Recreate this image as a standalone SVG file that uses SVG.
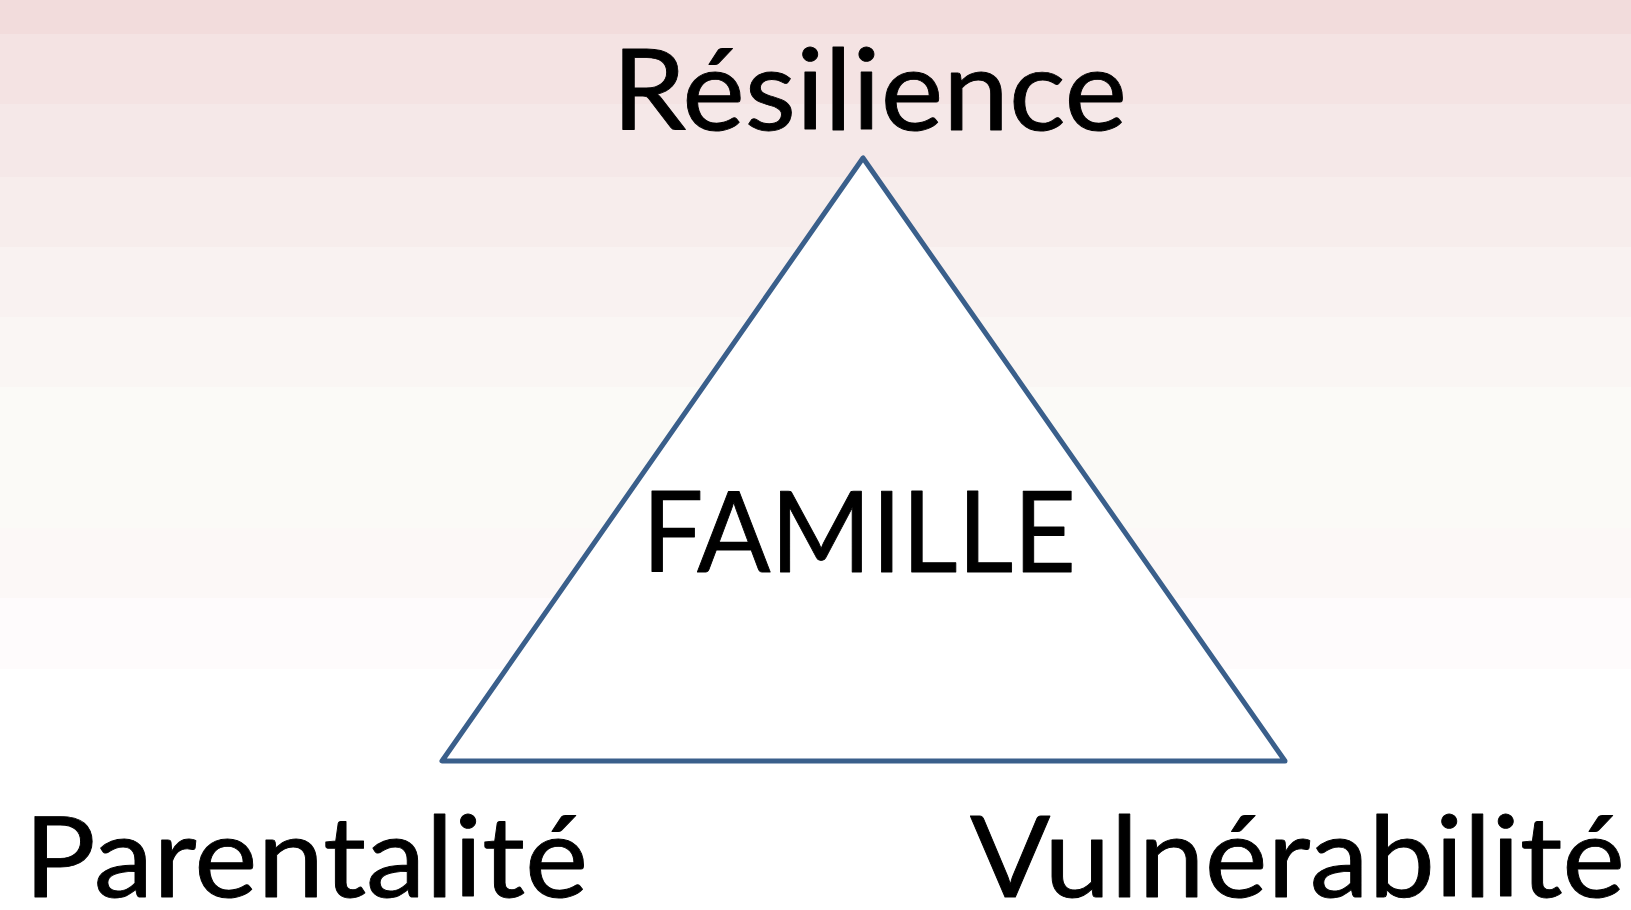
<svg xmlns="http://www.w3.org/2000/svg" width="1631" height="910" viewBox="0 0 1631 910">
<style>
.lbl{font-family:Lato,"Open Sans","Liberation Sans",sans-serif;font-size:112px;fill:#000;stroke:#000;stroke-width:0.9px;stroke-linejoin:round;}
.tri{fill:#fff;stroke:#3A5F8B;stroke-width:5;stroke-linejoin:round;}
</style>
<g id="background">
<rect x="0" y="0" width="1631" height="910" fill="#fff"/>
<rect x="0" y="0" width="1631" height="34" fill="#F2DCDC"/>
<rect x="0" y="34" width="1631" height="70" fill="#F4E3E3"/>
<rect x="0" y="104" width="1631" height="73" fill="#F5E8E8"/>
<rect x="0" y="177" width="1631" height="70" fill="#F7EDEC"/>
<rect x="0" y="247" width="1631" height="70" fill="#F9F2F1"/>
<rect x="0" y="317" width="1631" height="70" fill="#FAF6F4"/>
<rect x="0" y="387" width="1631" height="141" fill="#FBFAF7"/>
<rect x="0" y="528" width="1631" height="70" fill="#FCF8F7"/>
<rect x="0" y="598" width="1631" height="71" fill="#FEFBFC"/>
</g>
<g id="connectors"></g>
<g id="famille">
<polygon class="tri" points="863,158 442,761 1285,761"/>
<text class="lbl" x="642" y="572" textLength="434" lengthAdjust="spacingAndGlyphs">FAMILLE</text>
</g>
<g id="resilience">
<text class="lbl" x="612" y="130" textLength="515" lengthAdjust="spacingAndGlyphs">Résilience</text>
</g>
<g id="parentalite">
<text class="lbl" x="24" y="897" textLength="564" lengthAdjust="spacingAndGlyphs">Parentalité</text>
</g>
<g id="vulnerabilite">
<text class="lbl" x="970" y="897" textLength="655" lengthAdjust="spacingAndGlyphs">Vulnérabilité</text>
</g>
</svg>
